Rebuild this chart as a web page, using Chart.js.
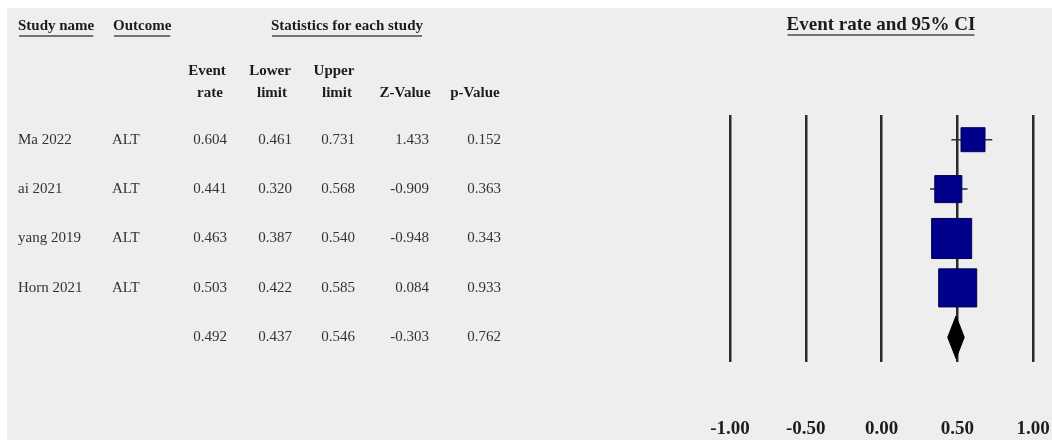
<!DOCTYPE html>
<html>
<head>
<meta charset="utf-8">
<title>Forest plot - ALT</title>
<script src="https://cdn.jsdelivr.net/npm/chart.js@4.4.1/dist/chart.umd.min.js"></script>
<style>
  body { margin: 0; background: #ffffff; }
  #forest { display: block; }
</style>
</head>
<body>
<canvas id="forest" width="1052" height="440"></canvas>
<script>
// ---- data
var studyNames  = ["Ma 2022", "ai 2021", "yang 2019", "Horn 2021", ""];
var outcomes    = ["ALT", "ALT", "ALT", "ALT", ""];
var eventRate   = [0.604, 0.441, 0.463, 0.503, 0.492];
var lowerLimit  = [0.461, 0.320, 0.387, 0.422, 0.437];
var upperLimit  = [0.731, 0.568, 0.540, 0.585, 0.546];
var zValue      = [1.433, -0.909, -0.948, 0.084, -0.303];
var pValue      = [0.152, 0.363, 0.343, 0.933, 0.762];
var studyWeight = [13.2, 16.8, 36.8, 33.2];   // relative weight (box area), estimated
var xTicks      = [-1.00, -0.50, 0.00, 0.50, 1.00];

var SERIF = "'Liberation Serif', 'Times New Roman', serif";
var summaryRow = 4;

// ---- datasets
var datasets = [];
// CI whiskers
for (var i = 0; i < studyWeight.length; i++) {
    datasets.push({
        data: [{x: lowerLimit[i], y: i}, {x: upperLimit[i], y: i}],
        showLine: true,
        borderColor: "#2b2b55",
        borderWidth: 1.5,
        pointRadius: 0,
        order: 2
    });
}
// boxes
var boxPts = [];
var boxRad = [];
for (var i = 0; i < studyWeight.length; i++) {
    boxPts.push({x: eventRate[i], y: i});
    boxRad.push(Math.sqrt(studyWeight[i]) * 4.67);
}
datasets.push({
    data: boxPts,
    pointStyle: "rect",
    pointRadius: boxRad,
    backgroundColor: "#00008b",
    borderColor: "#000055",
    borderWidth: 1,
    order: 1
});
// summary diamond
var dh = 0.43;
datasets.push({
    data: [
        {x: lowerLimit[summaryRow], y: summaryRow},
        {x: eventRate[summaryRow], y: summaryRow - dh},
        {x: upperLimit[summaryRow], y: summaryRow},
        {x: eventRate[summaryRow], y: summaryRow + dh},
        {x: lowerLimit[summaryRow], y: summaryRow}
    ],
    showLine: true,
    fill: "shape",
    tension: 0,
    backgroundColor: "#000000",
    borderColor: "#000000",
    borderWidth: 1,
    pointRadius: 0,
    order: 0
});

// ---- plugins
var panelBg = {
    id: "panelBg",
    beforeDraw: function(chart) {
        var c = chart.ctx;
        c.save();
        c.fillStyle = "#ffffff";
        c.fillRect(0, 0, chart.width, chart.height);
        c.fillStyle = "#eeeeee";
        c.fillRect(7, 8, chart.width - 7, chart.height - 8);
        c.restore();
    }
};

function underlined(c, txt, x, y, align) {
    c.textAlign = align;
    c.fillText(txt, x, y);
    var w = c.measureText(txt).width;
    var x0 = align == "center" ? x - w / 2 : x;
    c.beginPath();
    c.moveTo(x0 + 1, y + 10);
    c.lineTo(x0 + w - 1, y + 10);
    c.stroke();
}

var tableText = {
    id: "tableText",
    afterDraw: function(chart) {
        var c = chart.ctx;
        var ys = chart.scales.y;
        c.save();
        c.textBaseline = "middle";
        c.fillStyle = "#1c1c1c";
        c.strokeStyle = "#4a4a4a";
        c.lineWidth = 1.5;
        // group headers
        c.font = "bold 15px " + SERIF;
        underlined(c, "Study name", 18, 26, "left");
        underlined(c, "Outcome", 113, 26, "left");
        underlined(c, "Statistics for each study", 347, 26, "center");
        c.font = "bold 19px " + SERIF;
        underlined(c, "Event rate and 95% CI", 881, 25, "center");
        // column headers
        c.font = "bold 15px " + SERIF;
        c.textAlign = "center";
        c.fillText("Event", 207, 71);
        c.fillText("rate", 210, 93);
        c.fillText("Lower", 270, 71);
        c.fillText("limit", 272, 93);
        c.fillText("Upper", 334, 71);
        c.fillText("limit", 337, 93);
        c.fillText("Z-Value", 405, 93);
        c.fillText("p-Value", 475, 93);
        // rows
        c.font = "15px " + SERIF;
        c.fillStyle = "#333333";
        var cols = [eventRate, lowerLimit, upperLimit, zValue, pValue];
        var colRight = [227, 292, 355, 429, 501];
        for (var r = 0; r < eventRate.length; r++) {
            var y = ys.getPixelForValue(r);
            c.textAlign = "left";
            c.fillText(studyNames[r], 18, y);
            c.fillText(outcomes[r], 112, y);
            c.textAlign = "right";
            for (var k = 0; k < cols.length; k++) {
                c.fillText(cols[k][r].toFixed(3), colRight[k], y);
            }
        }
        c.restore();
    }
};

// ---- chart
var ctx_chart = document.getElementById("forest").getContext("2d");
var chart = new Chart(ctx_chart, {
    type: "scatter",
    data: { datasets: datasets },
    plugins: [panelBg, tableText],
    options: {
        responsive: false,
        animation: false,
        events: [],
        layout: {
            autoPadding: false,
            padding: { left: 730, right: 19, top: 115, bottom: 0 }
        },
        plugins: {
            legend: { display: false },
            tooltip: { enabled: false }
        },
        scales: {
            x: {
                type: "linear",
                min: -1,
                max: 1,
                afterBuildTicks: function(axis) {
                    axis.ticks = xTicks.map(function(v) { return {value: v}; });
                },
                afterFit: function(axis) {
                    axis.height = 78;
                    axis.paddingLeft = 0;
                    axis.paddingRight = 0;
                },
                grid: { color: "#2a2a2a", lineWidth: 2.5, drawTicks: false },
                border: { display: false },
                ticks: {
                    padding: 56,
                    color: "#1c1c1c",
                    font: { family: SERIF, size: 19, weight: "bold" },
                    callback: function(v) { return Number(v).toFixed(2); }
                }
            },
            y: {
                type: "linear",
                display: false,
                reverse: true,
                min: -0.5,
                max: 4.5
            }
        }
    }
});
</script>
</body>
</html>
